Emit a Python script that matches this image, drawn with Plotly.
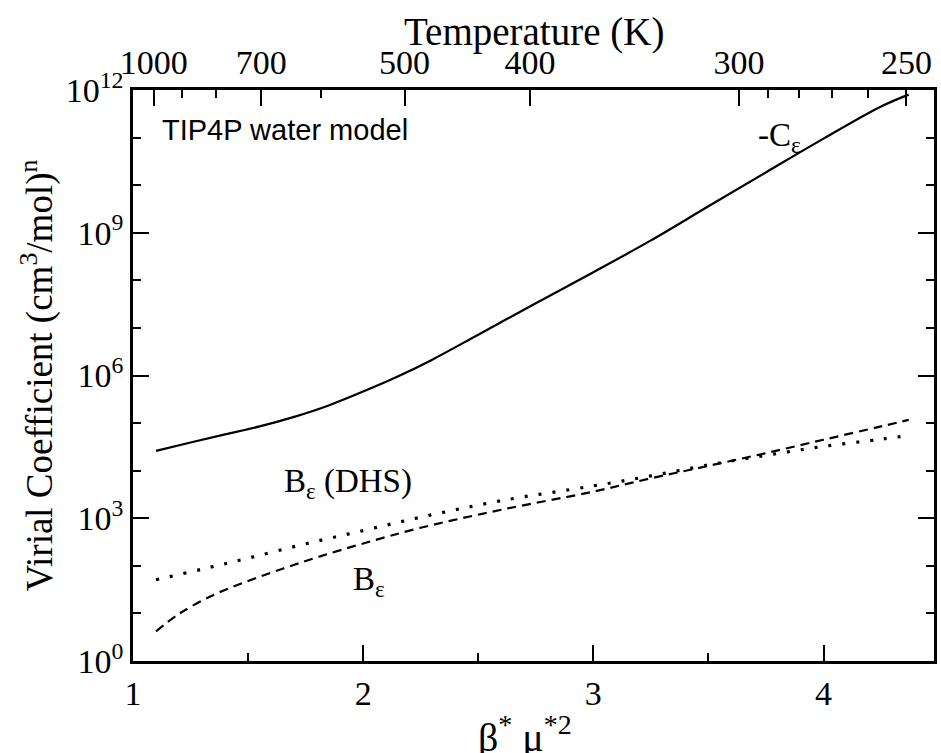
import plotly.graph_objects as go

# beta* mu*^2 values and coefficients
x_C = [1.10, 1.25, 1.40, 1.55, 1.70, 1.85, 2.00, 2.15, 2.30, 2.50, 2.75, 3.00, 3.25, 3.50, 3.75, 4.00, 4.25, 4.37]
neg_C = [2.6e4, 3.9e4, 5.8e4, 8.5e4, 1.35e5, 2.35e5, 4.6e5, 9.5e5, 2.15e6, 7.2e6, 3.3e7, 1.48e8,
         6.9e8, 3.6e9, 1.86e10, 9.5e10, 4.5e11, 8.0e11]

x_B = [1.10, 1.20, 1.35, 1.50, 1.65, 1.80, 2.00, 2.25, 2.60, 3.00, 3.25, 3.50, 3.75, 4.00, 4.25, 4.37]
B_eps = [4.2, 9.8, 24.5, 48, 87, 151, 295, 630, 1510, 3630, 6900, 1.26e4, 2.34e4, 4.47e4, 8.5e4, 1.17e5]

x_D = [1.10, 1.30, 1.50, 1.75, 2.00, 2.25, 2.60, 3.00, 3.25, 3.50, 3.75, 4.00, 4.25, 4.37]
B_dhs = [51, 85, 145, 290, 550, 1050, 2340, 4790, 7760, 1.32e4, 2.09e4, 3.24e4, 4.57e4, 5.5e4]

x_ticks = [1, 2, 3, 4]
x_minor = [1.5, 2.5, 3.5]
y_ticks = [1, 1e3, 1e6, 1e9, 1e12]
y_ticktext = ["10<sup>0</sup>", "10<sup>3</sup>", "10<sup>6</sup>", "10<sup>9</sup>", "10<sup>12</sup>"]
y_minor = [10, 100, 1e4, 1e5, 1e7, 1e8, 1e10, 1e11]

T_major = [1000, 700, 500, 400, 300, 250]
T_minor = [900, 800, 600, 290, 280, 270, 260]
C_T = 1090.0  # beta* mu*^2 = C_T / T

SERIF = "Liberation Serif"
xr = [1, 4.48]
yr = [0, 12]

fig = go.Figure()
fig.add_trace(go.Scatter(x=x_C, y=neg_C, mode="lines", line=dict(color="black", width=2.2),
                         showlegend=False, line_shape="spline"))
fig.add_trace(go.Scatter(x=x_B, y=B_eps, mode="lines",
                         line=dict(color="black", width=2.2, dash="9px,6px"),
                         showlegend=False, line_shape="spline"))
fig.add_trace(go.Scatter(x=x_D, y=B_dhs, mode="lines",
                         line=dict(color="black", width=3.2, dash="3px,11px"),
                         showlegend=False, line_shape="spline"))
# empty traces so the extra tick axes are drawn
for xa, ya in [("x2", "y"), ("x3", "y"), ("x4", "y"), ("x", "y2")]:
    fig.add_trace(go.Scatter(x=[None], y=[None], xaxis=xa, yaxis=ya, showlegend=False,
                             hoverinfo="skip", mode="lines"))

tick_common = dict(tickcolor="black", tickwidth=2, showgrid=False, zeroline=False)

fig.update_layout(
    width=941, height=753,
    margin=dict(l=133, r=4, t=90, b=92),
    paper_bgcolor="white", plot_bgcolor="white",
    font=dict(family=SERIF, color="black", size=34),
    xaxis=dict(
        range=xr, tickmode="array", tickvals=x_ticks, ticktext=[str(v) for v in x_ticks],
        ticks="inside", ticklen=16, showline=True, linewidth=2.5, linecolor="black", mirror=True,
        tickfont=dict(size=34), **tick_common,
    ),
    xaxis3=dict(
        overlaying="x", side="bottom", anchor="y", range=xr, tickmode="array", tickvals=x_minor,
        ticks="inside", ticklen=8, showticklabels=False, showline=False, **tick_common,
    ),
    xaxis2=dict(
        overlaying="x", side="top", anchor="y", range=xr,
        tickmode="array", tickvals=[C_T / t for t in T_major], ticktext=[str(t) for t in T_major],
        ticks="inside", ticklen=16, showline=True, linewidth=2.5, linecolor="black",
        tickfont=dict(size=34), **tick_common,
    ),
    xaxis4=dict(
        overlaying="x", side="top", anchor="y", range=xr,
        tickmode="array", tickvals=[C_T / t for t in T_minor],
        ticks="inside", ticklen=8, showticklabels=False, showline=False, **tick_common,
    ),
    yaxis=dict(
        type="log", range=yr, tickmode="array", tickvals=y_ticks, ticktext=y_ticktext,
        ticks="inside", ticklen=16, showline=True, linewidth=2.5, linecolor="black", mirror="ticks",
        tickfont=dict(size=34), **tick_common,
        title=dict(text="Virial Coefficient (cm<sup>3</sup>/mol)<sup>n</sup>", font=dict(size=37), standoff=2),
    ),
    yaxis2=dict(
        overlaying="y", type="log", range=yr, tickmode="array", tickvals=y_minor, anchor="x",
        ticks="inside", ticklen=8, showticklabels=False, showline=False, mirror="ticks", **tick_common,
    ),
)

fig.add_annotation(x=0.5, y=1.1016, xref="paper", yref="paper", text="Temperature (K)", showarrow=False,
                   xanchor="center", yanchor="middle", font=dict(size=39))
fig.add_annotation(x=0.49, y=-0.128, xref="paper", yref="paper", text="β<sup>*</sup> μ<sup>*2</sup>",
                   showarrow=False, xanchor="center", yanchor="middle", font=dict(size=40))

fig.add_annotation(x=1.117, y=11.16, xref="x", yref="y", text="TIP4P water model", showarrow=False,
                   xanchor="left", yanchor="middle", font=dict(family="Liberation Sans", size=29))
fig.add_annotation(x=3.81, y=11.0, xref="x", yref="y", text="-C<sub>ε</sub>", showarrow=False,
                   xanchor="center", yanchor="middle", font=dict(size=33))
fig.add_annotation(x=1.933, y=3.74, xref="x", yref="y", text="B<sub>ε</sub> (DHS)", showarrow=False,
                   xanchor="center", yanchor="middle", font=dict(size=33))
fig.add_annotation(x=2.026, y=1.68, xref="x", yref="y", text="B<sub>ε</sub>", showarrow=False,
                   xanchor="center", yanchor="middle", font=dict(size=33))

fig.write_html("out.html")
